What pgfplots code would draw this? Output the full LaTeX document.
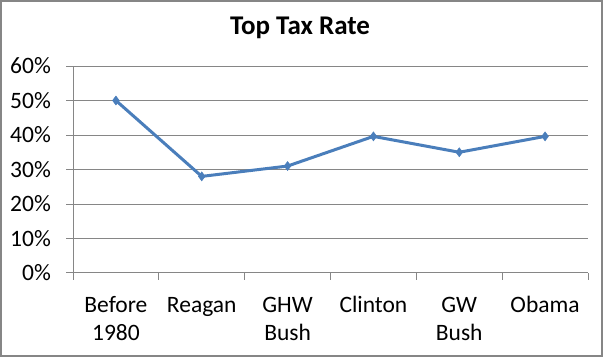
\documentclass[border=0pt]{standalone}
\usepackage{pgfplots}
\pgfplotsset{compat=1.18}
\usepackage{fontspec}
\setmainfont{Carlito}
\definecolor{exblue}{HTML}{4A7EBB}
\definecolor{exgray}{HTML}{868686}
\begin{document}
\begin{tikzpicture}[x=1pt,y=1pt]
\useasboundingbox (0,0) rectangle (604,358);
\draw[exgray, line width=1.2pt] (1,2) rectangle (602,357);
\node[font=\fontsize{27}{32}\selectfont\bfseries, anchor=base] at (300,323) {Top Tax Rate};
\begin{axis}[
  at={(73pt,85pt)}, anchor=south west,
  scale only axis, width=515pt, height=207pt,
  xmin=-0.5, xmax=5.5, ymin=0, ymax=60,
  axis lines*=left,
  axis line style={exgray, line width=1pt},
  ytick={0,10,...,60},
  ymajorgrids, grid style={exgray, line width=1pt},
  tick align=outside,
  major tick length=7pt, minor tick length=7pt,
  tick style={exgray, line width=1pt},
  xtick={0,...,5},
  major x tick style={draw=none},
  minor xtick={-0.5,0.5,...,5.5},
  xticklabels={{\strut Before\\1980},{\strut Reagan},{\strut GHW\\Bush},{\strut Clinton},{\strut GW\\Bush},{\strut Obama}},
  xticklabel style={align=center, anchor=north, inner sep=0pt, yshift=-13pt, font=\fontsize{23.5}{28}\selectfont},
  yticklabel={\pgfmathprintnumber{\tick}\%},
  yticklabel style={anchor=east, inner sep=0pt, xshift=-15pt, font=\fontsize{23.5}{26}\selectfont},
  /pgf/number format/assume math mode=true,
  clip=false,
]
\addplot[exblue, line width=3pt, mark=diamond*, mark size=4.5pt, mark options={fill=exblue, line width=0.5pt}]
  coordinates {(0,50) (1,28) (2,31) (3,39.6) (4,35) (5,39.6)};
\end{axis}
\end{tikzpicture}
\end{document}
